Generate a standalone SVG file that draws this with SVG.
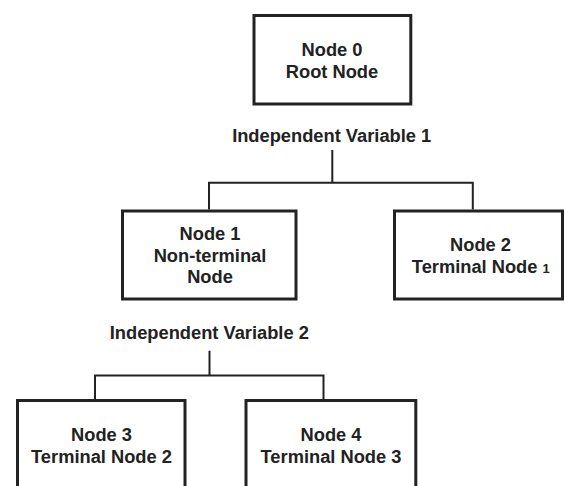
<svg xmlns="http://www.w3.org/2000/svg" width="565" height="486" viewBox="0 0 565 486">
<style>
.box{fill:#fff;stroke:#222;stroke-width:3}
.t{font-family:"Liberation Sans",Arial,sans-serif;font-weight:bold;font-size:18.3px;fill:#222;text-anchor:middle}
.c{fill:none;stroke:#222;stroke-width:2}
</style>
<rect width="565" height="486" fill="#fff"/>
<g id="connectors">
<path class="c" d="M332.3 150V182.7M208.5 182.7H472.8M209 181.7V209.5M472.8 181.7V209.5"/>
<path class="c" d="M209.5 350.7V375.5M94.5 375.5H324M95 374.5V399M323.5 374.5V399"/>
</g>
<g id="node0">
<rect class="box" x="254" y="15.5" width="156.8" height="88.5"/>
<text class="t" x="332" y="55.5">Node 0</text>
<text class="t" x="332" y="77.5">Root Node</text>
</g>
<g id="label1">
<text class="t" x="331.7" y="141.7">Independent Variable 1</text>
</g>
<g id="node1">
<rect class="box" x="122.5" y="211" width="173.5" height="88"/>
<text class="t" x="210" y="240">Node 1</text>
<text class="t" x="210" y="262">Non-terminal</text>
<text class="t" x="210" y="283">Node</text>
</g>
<g id="node2">
<rect class="box" x="394.5" y="211" width="168" height="88"/>
<text class="t" x="480.5" y="251">Node 2</text>
<text class="t" x="480.8" y="272.5">Terminal Node <tspan font-size="13">1</tspan></text>
</g>
<g id="label2">
<text class="t" x="209.3" y="338.7">Independent Variable 2</text>
</g>
<g id="node3">
<rect class="box" x="17.5" y="400.5" width="167.5" height="100"/>
<text class="t" x="101.5" y="441">Node 3</text>
<text class="t" x="101.5" y="463">Terminal Node 2</text>
</g>
<g id="node4">
<rect class="box" x="246" y="400.5" width="169.8" height="100"/>
<text class="t" x="331" y="441">Node 4</text>
<text class="t" x="331" y="463">Terminal Node 3</text>
</g>
</svg>
